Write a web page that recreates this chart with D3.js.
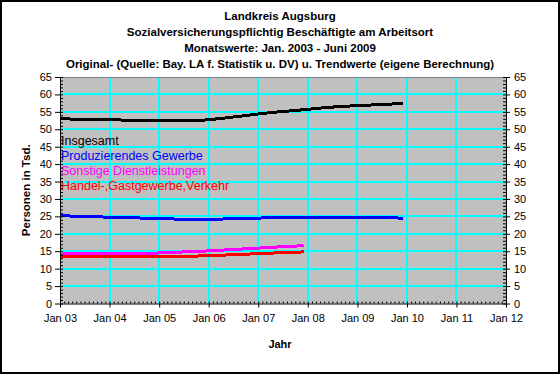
<!DOCTYPE html>
<html>
<head>
<meta charset="utf-8">
<script src="https://cdn.jsdelivr.net/npm/d3@7"></script>
<style>
  body { margin: 0; background: #fff; }
  svg { display: block; font-family: "Liberation Sans", Arial, sans-serif; }
</style>
</head>
<body>
<div id="chart"></div>
<script>

// Title lines
var titleLines = [
  'Landkreis Augsburg',
  'Sozialversicherungspflichtig Beschäftigte am Arbeitsort',
  'Monatswerte: Jan. 2003 - Juni 2009',
  'Original- (Quelle: Bay. LA f. Statistik u. DV) u. Trendwerte (eigene Berechnung)'
];

// Series names (legend order) and colours
var seriesNames = ['Insgesamt', 'Produzierendes Gewerbe', 'Sonstige Dienstleistungen', 'Handel-,Gastgewerbe,Verkehr'];
var seriesColors = ['#000000', '#0000ff', '#ff00ff', '#ff0000'];

// Trend values, thousands of persons
var insgesamt = [
  ['2003-01', 53.0], ['2003-10', 52.8], ['2004-10', 52.5], ['2005-10', 52.4],
  ['2006-04', 53.1], ['2006-09', 53.8], ['2007-01', 54.4], ['2007-06', 55.0],
  ['2007-12', 55.6], ['2008-06', 56.3], ['2009-01', 56.8], ['2009-07', 57.1],
  ['2009-12', 57.4]
];
var produzierend = [
  ['2003-01', 25.2], ['2003-09', 24.9], ['2004-06', 24.6], ['2005-01', 24.4],
  ['2005-08', 24.1], ['2006-03', 24.2], ['2006-09', 24.4], ['2007-04', 24.6],
  ['2007-12', 24.7], ['2009-10', 24.7], ['2009-12', 24.3]
];
var dienstleistung = [
  ['2003-01', 14.2], ['2004-07', 14.3], ['2005-01', 14.5], ['2005-07', 14.8],
  ['2006-01', 15.1], ['2006-07', 15.5], ['2007-01', 15.9], ['2007-07', 16.3],
  ['2007-12', 16.6]
];
var handel = [
  ['2003-01', 13.4], ['2005-06', 13.5], ['2006-01', 13.7], ['2006-07', 14.0],
  ['2007-01', 14.3], ['2007-07', 14.6], ['2007-12', 14.8]
];

var seriesData = [insgesamt, produzierend, dienstleistung, handel];

// Axis settings
var yTicks = d3.range(0, 70, 5);
var yearTicks = ['2003', '2004', '2005', '2006', '2007', '2008', '2009', '2010', '2011', '2012'];

var width = 560,
    height = 374;

var margin = {top: 77, right: 54, bottom: 70.5, left: 60};
var innerW = width - margin.left - margin.right,
    innerH = height - margin.top - margin.bottom;

var parseMonth = d3.timeParse('%Y-%m'),
    parseYear = d3.timeParse('%Y');

var x = d3.scaleTime()
    .domain([parseYear('2003'), parseYear('2012')])
    .range([margin.left, margin.left + innerW]);

var y = d3.scaleLinear()
    .domain([0, 65])
    .range([margin.top + innerH, margin.top]);

var svg = d3.select('#chart')
  .append('svg')
    .attr('width', width)
    .attr('height', height);

// outer frame
svg.append('rect')
    .attr('x', 1)
    .attr('y', 1)
    .attr('width', width - 2)
    .attr('height', height - 2)
    .attr('fill', '#fff')
    .attr('stroke', '#000')
    .attr('stroke-width', 2);

// titles
svg.append('g')
  .selectAll('text')
  .data(titleLines)
  .enter()
  .append('text')
    .attr('x', 280)
    .attr('y', function(d, i) { return 20 + i * 16; })
    .attr('text-anchor', 'middle')
    .style('font-size', '11.5px')
    .style('font-weight', 'bold')
    .text(function(d) { return d; });

// plot area
svg.append('rect')
    .attr('x', margin.left)
    .attr('y', margin.top)
    .attr('width', innerW)
    .attr('height', innerH)
    .attr('fill', '#c0c0c0');

// gridlines
var grid = svg.append('g')
    .attr('stroke', '#00ffff')
    .attr('stroke-width', 2)
    .style('shape-rendering', 'crispEdges');

grid.selectAll('.hgrid')
  .data(yTicks.filter(function(d) { return d > 0 && d < 65; }))
  .enter()
  .append('line')
    .attr('x1', margin.left)
    .attr('x2', margin.left + innerW)
    .attr('y1', function(d) { return y(d); })
    .attr('y2', function(d) { return y(d); });

grid.selectAll('.vgrid')
  .data(yearTicks.slice(1, -1))
  .enter()
  .append('line')
    .attr('y1', margin.top)
    .attr('y2', margin.top + innerH)
    .attr('x1', function(d) { return x(parseYear(d)); })
    .attr('x2', function(d) { return x(parseYear(d)); });

// top border of plot area
svg.append('line')
    .attr('x1', margin.left)
    .attr('x2', margin.left + innerW)
    .attr('y1', margin.top + 0.5)
    .attr('y2', margin.top + 0.5)
    .attr('stroke', '#808080');

// series lines
var line = d3.line()
    .x(function(d) { return x(parseMonth(d[0])); })
    .y(function(d) { return y(d[1]); });

svg.append('g')
  .selectAll('path')
  .data(seriesData)
  .enter()
  .append('path')
    .attr('d', line)
    .attr('fill', 'none')
    .attr('stroke', function(d, i) { return seriesColors[i]; })
    .attr('stroke-width', 3)
    .style('shape-rendering', 'crispEdges');

// legend text inside plot
svg.append('g')
  .selectAll('text')
  .data(seriesNames)
  .enter()
  .append('text')
    .attr('x', margin.left + 1)
    .attr('y', function(d, i) { return 144.5 + i * 15.2; })
    .attr('fill', function(d, i) { return seriesColors[i]; })
    .style('font-size', '12.5px')
    .text(function(d) { return d; });

// axes
var tickFont = function(g) {
  g.selectAll('text')
    .style('font-size', '11px')
    .attr('fill', '#000');
  g.selectAll('line').attr('stroke', '#000');
  g.select('.domain').attr('stroke', '#000');
};

var yMinor = d3.range(0, 66, 1);

// left axis
svg.append('g')
    .attr('transform', 'translate(' + margin.left + ',0)')
    .call(d3.axisLeft(y).tickValues(yMinor).tickSize(-3).tickFormat(''))
    .call(function(g) { g.select('.domain').remove(); });

svg.append('g')
    .attr('transform', 'translate(' + margin.left + ',0)')
    .call(d3.axisLeft(y).tickValues(yTicks).tickSizeInner(5).tickSizeOuter(0).tickPadding(3))
    .call(tickFont);

// right axis
svg.append('g')
    .attr('transform', 'translate(' + (margin.left + innerW) + ',0)')
    .call(d3.axisRight(y).tickValues(yMinor).tickSize(-3).tickFormat(''))
    .call(function(g) { g.select('.domain').remove(); });

svg.append('g')
    .attr('transform', 'translate(' + (margin.left + innerW) + ',0)')
    .call(d3.axisRight(y).tickValues(yTicks).tickSizeInner(4).tickSizeOuter(0).tickPadding(4))
    .call(tickFont);

// bottom axis: monthly minor ticks pointing inward
svg.append('g')
    .attr('transform', 'translate(0,' + (margin.top + innerH) + ')')
    .call(d3.axisBottom(x).ticks(d3.timeMonth.every(1)).tickSize(-2).tickFormat(''))
    .call(function(g) {
      g.select('.domain').remove();
      g.selectAll('line').attr('stroke', '#000');
    });

svg.append('g')
    .attr('transform', 'translate(0,' + (margin.top + innerH) + ')')
    .call(d3.axisBottom(x)
      .tickValues(yearTicks.map(function(d) { return parseYear(d); }))
      .tickFormat(d3.timeFormat('Jan %y'))
      .tickSizeInner(4).tickSizeOuter(0).tickPadding(7))
    .call(tickFont);

svg.selectAll('.domain').attr('stroke-width', 1);

// axis titles
svg.append('text')
    .attr('x', 280)
    .attr('y', 348)
    .attr('text-anchor', 'middle')
    .style('font-size', '11px')
    .style('font-weight', 'bold')
    .text('Jahr');

svg.append('text')
    .attr('transform', 'translate(30,' + (margin.top + innerH / 2) + ') rotate(-90)')
    .attr('text-anchor', 'middle')
    .style('font-size', '11.5px')
    .style('font-weight', 'bold')
    .text('Personen in Tsd.');

</script>
</body>
</html>
